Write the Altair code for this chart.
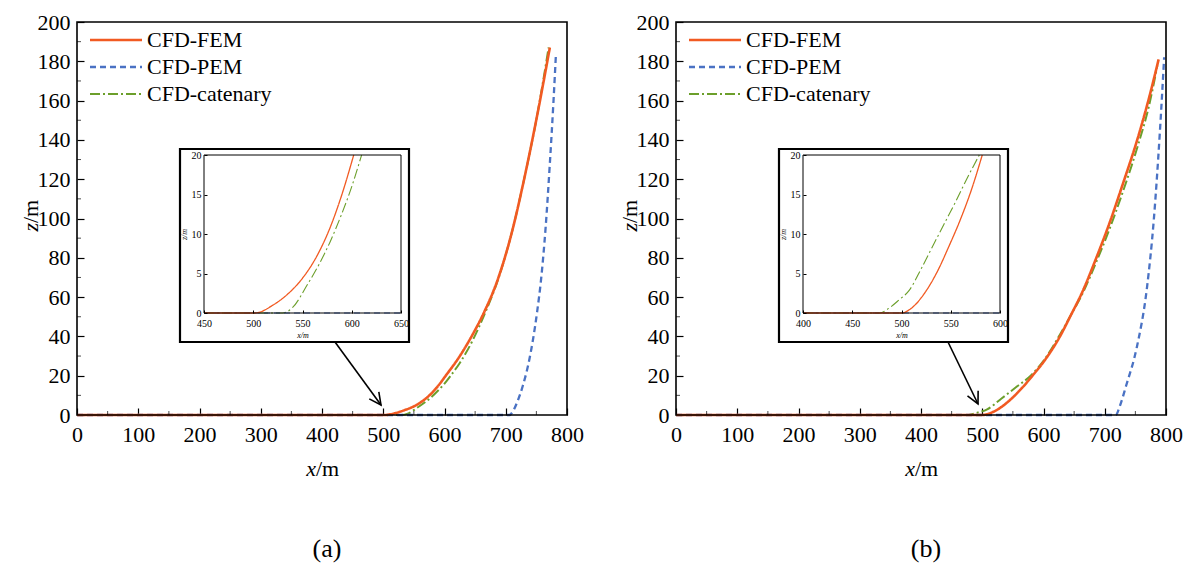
import altair as alt
import pandas as pd

FONT = "Liberation Serif"
SERIES = ["CFD-FEM", "CFD-PEM", "CFD-catenary"]
COLORS = ["#f15a22", "#4a72c4", "#6c9f2b"]
DASHES = [[1, 0], [6, 4], [10, 3, 2, 3]]
WIDTHS = [2.6, 2.0, 2.0]
INSET_WIDTHS = [1.3, 1.1, 1.1]

X_TICKS = [0, 100, 200, 300, 400, 500, 600, 700, 800]
X_MINOR = [50, 150, 250, 350, 450, 550, 650, 750]
Z_TICKS = [0, 20, 40, 60, 80, 100, 120, 140, 160, 180, 200]
Z_MINOR = [10, 30, 50, 70, 90, 110, 130, 150, 170, 190]
INSET_Z_TICKS = [0, 5, 10, 15, 20]
INSET_A_X_TICKS = [450, 500, 550, 600, 650]
INSET_B_X_TICKS = [400, 450, 500, 550, 600]

# ---- panel (a) main curves
fem_a_x = [0, 502, 520, 535, 550, 565, 578, 590, 602, 625, 646, 665, 687, 710, 730, 751, 772]
fem_a_z = [0, 0, 1, 2.5, 4.4, 7.3, 10.8, 15, 20, 30, 41, 52.5, 69, 93, 120, 152, 187]
pem_a_x = [0, 706, 712, 718, 728, 739, 751, 758, 765, 772, 778, 782]
pem_a_z = [0, 0, 2, 6, 15, 29, 52, 70, 95, 128, 160, 184]
cat_a_x = [0, 530, 540, 555, 567, 578, 590, 600, 610, 625, 646, 665, 687, 710, 730, 751, 770]
cat_a_z = [0, 0, 0.7, 3.6, 6.2, 9, 12.6, 16, 20, 26.5, 38, 51, 68.5, 93, 120, 152, 187]

# ---- panel (a) inset curves
fem_ai_x = [450, 502, 520, 535, 550, 565, 578, 590, 602]
fem_ai_z = [0, 0, 1, 2.4, 4.4, 7.3, 10.8, 15, 20]
pem_ai_x = [450, 650]
pem_ai_z = [0, 0]
cat_ai_x = [450, 530, 540, 555, 567, 578, 590, 600, 610]
cat_ai_z = [0, 0, 0.7, 3.6, 6.2, 9, 12.6, 16, 20]

# ---- panel (b) main curves
fem_b_x = [0, 500, 510, 525, 548, 565, 582, 600, 626, 645, 664, 685, 707, 730, 754, 772, 788]
fem_b_z = [0, 0, 0.6, 2.8, 8.4, 13.8, 20, 27, 39.5, 51, 63, 79, 97, 118, 141, 161, 181]
pem_b_x = [0, 718, 724, 735, 752, 769, 780, 790, 797]
pem_b_z = [0, 0, 4, 15, 34, 65, 99, 144, 182]
cat_b_x = [0, 478, 490, 508, 531, 555, 579, 600, 626, 645, 664, 685, 707, 730, 754, 772, 786]
cat_b_z = [0, 0, 1, 2.9, 8.3, 14.1, 20, 27.5, 40.5, 51, 62, 77, 94, 114, 137, 157, 178]

# ---- panel (b) inset curves
fem_bi_x = [400, 500, 510, 525, 537, 548, 560, 571, 582]
fem_bi_z = [0, 0, 0.6, 2.8, 5.4, 8.4, 11.9, 15.6, 20]
pem_bi_x = [400, 600]
pem_bi_z = [0, 0]
cat_bi_x = [400, 478, 486, 497, 508, 520, 531, 543, 555, 566, 579]
cat_bi_z = [0, 0, 0.5, 1.6, 2.9, 5.6, 8.3, 11.2, 14.1, 16.9, 20]


def make_df(curves):
    rows = []
    for name, xs, zs in curves:
        for i, (x, z) in enumerate(zip(xs, zs)):
            rows.append({"series": name, "x": x, "z": z, "i": i})
    return pd.DataFrame(rows)


one = pd.DataFrame({"k": [0]})

VIEW_H = 393
PANEL_W = 490
B_OFF = 599


def lines_layer(df, xscale, yscale, xaxis, yaxis, widths, legend):
    return alt.Chart(df).mark_line(clip=False, strokeCap="butt", interpolate="monotone").encode(
        x=alt.X("x:Q", scale=xscale, axis=xaxis),
        y=alt.Y("z:Q", scale=yscale, axis=yaxis),
        color=alt.Color("series:N", scale=alt.Scale(domain=SERIES, range=COLORS), legend=legend),
        strokeDash=alt.StrokeDash("series:N", scale=alt.Scale(domain=SERIES, range=DASHES), legend=legend),
        strokeWidth=alt.StrokeWidth("series:N", scale=alt.Scale(domain=SERIES, range=widths), legend=None),
        order="i:Q",
        detail="series:N",
    )


def main_panel(df, x0, legend_x):
    xs = alt.Scale(domain=[0, 800], range=[x0, x0 + PANEL_W], nice=False, zero=False)
    ys = alt.Scale(domain=[0, 200], range=[VIEW_H, 0], nice=False, zero=False)
    xaxis = alt.Axis(orient="bottom", offset=0, values=X_TICKS, title=None,
                     tickSize=alt.ExprRef(expr="-7"), tickWidth=1.2,
                     labelFont=FONT, labelFontSize=22, labelPadding=16,
                     labelFlush=False, labelOverlap=False, format="d")
    yaxis = alt.Axis(orient="left", offset=-x0, values=Z_TICKS, title=None,
                     tickSize=alt.ExprRef(expr="-7"), tickWidth=1.2,
                     labelFont=FONT, labelFontSize=22, labelPadding=14,
                     labelOverlap=False, format="d")
    legend = alt.Legend(orient="none", legendX=legend_x, legendY=7, title=None,
                        symbolType="M-5.2,0H5.2", symbolSize=100, symbolStrokeWidth=2.4,
                        labelFont=FONT, labelFontSize=22, labelColor="black", labelOffset=20,
                        padding=0, rowPadding=5, labelLimit=300)
    lines = lines_layer(df, xs, ys, xaxis, yaxis, WIDTHS, legend)
    box = alt.Chart(one).mark_rect(filled=False, stroke="black", strokeWidth=1.6).encode(
        x=alt.X(datum=0, axis=xaxis), x2=alt.datum(800), y=alt.Y(datum=0, axis=yaxis), y2=alt.datum(200))
    xminor = alt.Chart(pd.DataFrame({"v": X_MINOR})).mark_tick(
        orient="vertical", size=4, thickness=1, color="black", yOffset=-2).encode(
        x=alt.X("v:Q", axis=xaxis), y=alt.Y(datum=0, axis=yaxis))
    yminor = alt.Chart(pd.DataFrame({"v": Z_MINOR})).mark_tick(
        orient="horizontal", size=4, thickness=1, color="black", xOffset=2).encode(
        y=alt.Y("v:Q", axis=yaxis), x=alt.X(datum=0, axis=xaxis))
    return alt.layer(lines, box, xminor, yminor)


def inset_panel(df, xdom, xticks, px0):
    xs = alt.Scale(domain=xdom, range=[px0, px0 + 197], nice=False, zero=False)
    ys = alt.Scale(domain=[0, 20], range=[291, 133], nice=False, zero=False)
    xaxis = alt.Axis(orient="bottom", offset=-(VIEW_H - 291), values=xticks, title="x/m",
                     titleFont=FONT, titleFontSize=8, titleFontWeight="normal", titleFontStyle="italic",
                     titlePadding=3, titleColor="black",
                     tickSize=alt.ExprRef(expr="-3"),
                     labelFont=FONT, labelFontSize=10, labelPadding=8,
                     labelFlush=False, labelOverlap=False, format="d", zindex=2)
    yaxis = alt.Axis(orient="left", offset=-px0, values=INSET_Z_TICKS, title="z/m",
                     titleFont=FONT, titleFontSize=8, titleFontWeight="normal", titleFontStyle="italic",
                     titlePadding=3, titleColor="black",
                     tickSize=alt.ExprRef(expr="-3"),
                     labelFont=FONT, labelFontSize=10, labelPadding=6,
                     labelOverlap=False, format="d", zindex=2)
    lines = lines_layer(df, xs, ys, xaxis, yaxis, INSET_WIDTHS, None)
    box = alt.Chart(one).mark_rect(filled=False, stroke="black", strokeWidth=1).encode(
        x=alt.X(datum=xdom[0], axis=xaxis), x2=alt.datum(xdom[1]),
        y=alt.Y(datum=0, axis=yaxis), y2=alt.datum(20))
    return alt.layer(lines, box)


def outer_frame(x1, x2, y1, y2):
    return alt.Chart(one).mark_rect(fill="white", stroke="black", strokeWidth=2.2).encode(
        x=alt.value(x1), x2=alt.value(x2), y=alt.value(y1), y2=alt.value(y2))


def arrow(x1, y1, x2, y2, ang):
    shaft = alt.Chart(one).mark_rule(color="black", strokeWidth=1.6).encode(
        x=alt.value(x1), y=alt.value(y1), x2=alt.value(x2), y2=alt.value(y2))
    head = alt.Chart(one).mark_point(shape="M-0.5,-1L0,0L0.5,-1", filled=False, stroke="black",
                                     strokeWidth=1.6, size=560, angle=ang, opacity=1).encode(
        x=alt.value(x2), y=alt.value(y2))
    return [shaft, head]


def txt(text, x, y, size, style="normal", align="center", angle=0):
    return alt.Chart(one).mark_text(text=text, font=FONT, fontSize=size, fontStyle=style,
                                    align=align, baseline="middle", angle=angle, color="black").encode(
        x=alt.value(x), y=alt.value(y))


def order(c, p, f):
    return [("CFD-catenary",) + c, ("CFD-PEM",) + p, ("CFD-FEM",) + f]


df_a = make_df(order((cat_a_x, cat_a_z), (pem_a_x, pem_a_z), (fem_a_x, fem_a_z)))
df_ai = make_df(order((cat_ai_x, cat_ai_z), (pem_ai_x, pem_ai_z), (fem_ai_x, fem_ai_z)))
df_b = make_df(order((cat_b_x, cat_b_z), (pem_b_x, pem_b_z), (fem_b_x, fem_b_z)))
df_bi = make_df(order((cat_bi_x, cat_bi_z), (pem_bi_x, pem_bi_z), (fem_bi_x, fem_bi_z)))

layers = []
for off, df, dfi, xdom, xt, cap, ang, ax in [
    (0, df_a, df_ai, [450, 650], INSET_A_X_TICKS, "(a)", 324, (258, 320, 304, 383)),
    (B_OFF, df_b, df_bi, [400, 600], INSET_B_X_TICKS, "(b)", 334, (871 - B_OFF, 320, 901 - B_OFF, 382)),
]:
    layers.append(main_panel(df, off, off + 28))
    layers.append(outer_frame(off + 103, off + 332, 127, 320))
    layers.append(inset_panel(dfi, xdom, xt, off + 127))
    layers += arrow(off + ax[0], ax[1], off + ax[2], ax[3], ang)
    cx = off + 245
    layers.append(txt("x", cx - 6, 447, 22, style="italic", align="right"))
    layers.append(txt("/m", cx - 6, 447, 22, align="left"))
    layers.append(txt("z", off - 46, 201, 22, style="italic", align="right", angle=270))
    layers.append(txt("/m", off - 46, 201, 22, align="left", angle=270))
    layers.append(txt(cap, off + 250, 527, 26))

chart = alt.layer(*layers).resolve_scale(
    x="independent", y="independent", color="independent",
    strokeDash="independent", strokeWidth="independent",
).resolve_legend(color="independent", strokeDash="independent").properties(
    width=1089, height=VIEW_H,
    autosize=alt.AutoSizeParams(type="none"),
    padding={"left": 77, "top": 22, "right": 23, "bottom": 160},
    background="white",
).configure(font=FONT).configure_view(stroke=None).configure_axis(
    labelFont=FONT, labelColor="black", labelOverlap=False, tickColor="black",
    domain=False, grid=False, labelFlush=False,
)

chart.save("out.html", embed_options={"renderer": "svg", "actions": False})
